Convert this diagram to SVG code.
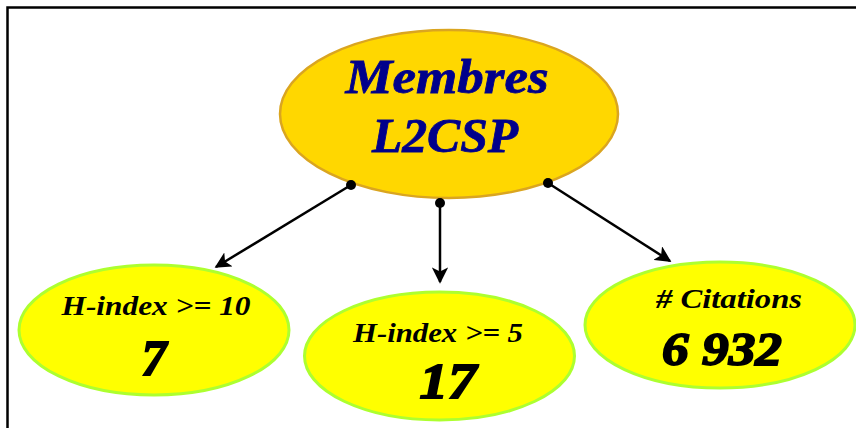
<svg xmlns="http://www.w3.org/2000/svg" width="856" height="428" viewBox="0 0 856 428">
<style>
.frame{fill:none;stroke:#000;stroke-width:2.5}
.main{fill:#FFD700;stroke:#DAA520;stroke-width:2.5}
.sub{fill:#FFFF00;stroke:#ADFF2F;stroke-width:3}
.title{font-family:"Liberation Serif",serif;font-weight:bold;font-style:italic;font-size:48px;fill:#00008B;stroke:#00008B;stroke-width:0.8;text-anchor:middle}
.label{font-family:"Liberation Serif",serif;font-weight:bold;font-style:italic;font-size:27px;fill:#000;text-anchor:middle}
.num{font-family:"Liberation Serif",serif;font-weight:bold;font-style:italic;font-size:50px;fill:#000;stroke:#000;stroke-width:1.8;text-anchor:middle}
.conn{stroke:#000;stroke-width:2.5;fill:none}
</style>
<defs>
<marker id="arr" viewBox="0 0 10 10" refX="9" refY="5" markerWidth="6.5" markerHeight="6.5" orient="auto" markerUnits="strokeWidth">
<path d="M0,0 L10,5 L0,10 L2.5,5 Z" fill="#000"/>
</marker>
</defs>
<rect class="frame" x="7.5" y="7.5" width="900" height="450"/>
<g id="membres">
<ellipse class="main" cx="449" cy="114" rx="169" ry="84"/>
<text class="title" x="447" y="93" textLength="203" lengthAdjust="spacingAndGlyphs">Membres</text>
<text class="title" x="445" y="152" textLength="146" lengthAdjust="spacingAndGlyphs">L2CSP</text>
</g>
<g id="hindex10">
<ellipse class="sub" cx="154" cy="330" rx="135" ry="65"/>
<text class="label" x="156" y="315" textLength="189" lengthAdjust="spacingAndGlyphs">H-index &gt;= 10</text>
<text class="num" x="154" y="375">7</text>
</g>
<g id="hindex5">
<ellipse class="sub" cx="439.5" cy="356" rx="135" ry="64"/>
<text class="label" x="438" y="342" textLength="170" lengthAdjust="spacingAndGlyphs">H-index &gt;= 5</text>
<text class="num" x="448" y="398" textLength="57" lengthAdjust="spacingAndGlyphs">17</text>
</g>
<g id="citations">
<ellipse class="sub" cx="720" cy="325" rx="135" ry="63"/>
<text class="label" x="729" y="308" textLength="146" lengthAdjust="spacingAndGlyphs">#  Citations</text>
<text class="num" x="722" y="365" style="font-size:46px" textLength="120" lengthAdjust="spacingAndGlyphs">6 932</text>
</g>
<g id="connectors">
<line class="conn" x1="351" y1="185" x2="216" y2="267" marker-end="url(#arr)"/>
<line class="conn" x1="440" y1="203" x2="440" y2="282" marker-end="url(#arr)"/>
<line class="conn" x1="548" y1="183" x2="670" y2="261" marker-end="url(#arr)"/>
<circle cx="351" cy="185" r="5" fill="#000"/>
<circle cx="440" cy="203" r="5" fill="#000"/>
<circle cx="548" cy="183" r="5" fill="#000"/>
</g>
</svg>
